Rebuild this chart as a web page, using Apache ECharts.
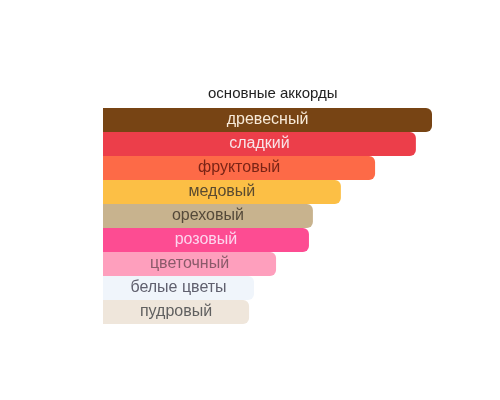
<!DOCTYPE html>
<html>
<head>
<meta charset="utf-8">
<script src="https://cdn.jsdelivr.net/npm/echarts@6/dist/echarts.min.js"></script>
<style>
  html, body { margin: 0; padding: 0; background: #fff; }
  #chart { width: 500px; height: 400px; }
</style>
</head>
<body>
<div id="chart"></div>
<script>
// accords, strongest first
var accords = ['древесный', 'сладкий', 'фруктовый', 'медовый', 'ореховый', 'розовый', 'цветочный', 'белые цветы', 'пудровый'];
var strength = [100, 95.1, 82.7, 72.3, 63.8, 62.6, 52.6, 45.9, 44.4];
var barColors = ['#774414', '#ec3e4a', '#fd6a47', '#fcbf45', '#c8b38e', '#fd4c92', '#fe9fbd', '#f0f5fb', '#efe6db'];
var textColors = ['#f8ead8', '#f8e4e8', '#7a2416', '#5a4a30', '#554a3a', '#fcd6ee', '#8a5a6a', '#60606e', '#606060'];

var myChart = echarts.init(document.getElementById('chart'));

var items = strength.map(function (v, i) {
    return {
        value: v,
        itemStyle: { color: barColors[i] },
        label: { color: textColors[i] }
    };
});

var option = {
    animation: false,
    title: {
        text: 'основные аккорды',
        left: 203,
        top: 81,
        textStyle: { fontFamily: 'Liberation Sans', fontSize: 15, fontWeight: 'normal', color: '#222' }
    },
    grid: { left: 103, top: 108, width: 329, height: 216 },
    xAxis: { type: 'value', min: 0, max: 100, show: false },
    yAxis: {
        type: 'category',
        data: accords,
        inverse: true,
        show: false
    },
    series: [{
        type: 'bar',
        data: items,
        barWidth: 24,
        itemStyle: { borderRadius: [0, 6, 6, 0] },
        label: {
            show: true,
            position: 'inside',
            formatter: '{b}',
            fontFamily: 'Liberation Sans',
            fontSize: 16
        }
    }]
};

myChart.setOption(option);
</script>
</body>
</html>
